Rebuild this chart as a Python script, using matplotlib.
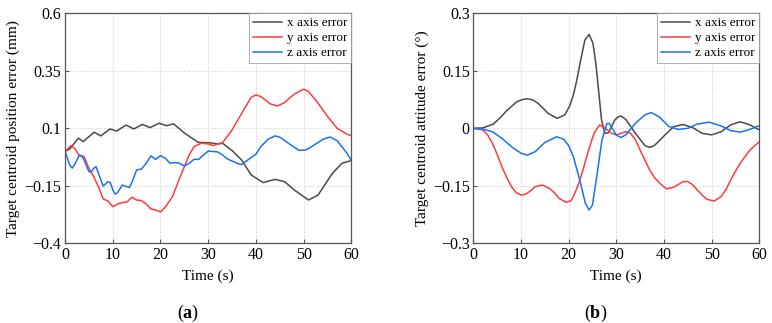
import matplotlib
matplotlib.use("Agg")
import matplotlib.pyplot as plt

plt.rcParams['font.family'] = ['Liberation Serif', 'DejaVu Serif']
plt.rcParams['mathtext.fontset'] = 'custom'
plt.rcParams['mathtext.rm'] = 'Liberation Serif'
plt.rcParams['mathtext.bf'] = 'Liberation Serif:bold'

# ---- panel (a): position error (mm) ----
ta_x = [0, 1, 2.8, 3.8, 6.1, 7.5, 9.4, 10.8, 12.8, 14.4, 16.2, 17.8, 19.7, 21.3, 22.7, 25.1, 27.9,
        30.4, 32, 33, 35, 37, 39, 41.5, 44, 46, 48, 51, 53, 56, 58, 60]
a_x = [0.0, 0.01, 0.057, 0.042, 0.083, 0.067, 0.097, 0.088, 0.114, 0.097, 0.117, 0.103, 0.122,
       0.111, 0.12, 0.078, 0.039, 0.037, 0.032, 0.035, 0.003, -0.038, -0.103, -0.136, -0.122,
       -0.132, -0.168, -0.212, -0.19, -0.096, -0.052, -0.04]

ta_y = [0, 1.3, 2, 3, 4, 5, 6, 7, 8, 9, 10, 11, 12, 13, 14, 15, 16, 17, 18, 19, 20, 21, 22.5, 24,
        25, 26, 27, 28.5, 30, 31, 33, 35, 37, 39, 40, 41, 43, 44.5, 46, 48, 50, 51, 53, 55, 57, 59, 60]
a_y = [0.0, 0.025, 0.013, -0.019, -0.023, -0.074, -0.11, -0.154, -0.207, -0.216, -0.241, -0.229,
       -0.223, -0.22, -0.2, -0.212, -0.214, -0.229, -0.251, -0.255, -0.264, -0.243, -0.197, -0.117,
       -0.067, -0.016, 0.02, 0.035, 0.032, 0.025, 0.038, 0.093, 0.165, 0.235, 0.245, 0.238, 0.206,
       0.197, 0.212, 0.249, 0.27, 0.26, 0.209, 0.151, 0.1, 0.075, 0.067]

ta_z = [0, 0.5, 1, 1.5, 2, 3, 3.5, 4, 5, 5.5, 6, 6.5, 7, 8, 9, 9.5, 10, 10.5, 11, 12, 13, 13.5, 14,
        15, 16, 17, 18, 19, 20, 21, 22, 23, 24, 25, 26, 27, 28, 29, 30, 32, 33, 34, 36, 37, 38, 40,
        41, 42.5, 44, 45, 47, 49, 50.5, 52, 54, 55.5, 57, 59, 60]
a_z = [0.0, -0.03, -0.06, -0.073, -0.059, -0.016, -0.02, -0.038, -0.088, -0.09, -0.074, -0.067,
       -0.096, -0.151, -0.132, -0.136, -0.168, -0.186, -0.18, -0.147, -0.154, -0.157, -0.136,
       -0.081, -0.077, -0.052, -0.02, -0.035, -0.019, -0.03, -0.052, -0.049, -0.052, -0.064,
       -0.052, -0.035, -0.035, -0.016, 0.001, -0.003, -0.016, -0.033, -0.052, -0.058, -0.042,
       -0.012, 0.02, 0.052, 0.067, 0.061, 0.032, 0.004, 0.006, 0.025, 0.052, 0.062, 0.046,
       -0.007, -0.041]

# ---- panel (b): attitude error (deg) ----
tb_x = [0, 2, 4.2, 5.6, 7, 9.1, 10.3, 11.4, 12.5, 13.6, 15.7, 17.6, 19.2, 20.2, 21, 21.7, 22.4,
        23.4, 24.3, 25.1, 25.7, 26.2, 26.9, 27.6, 28.3, 29, 29.7, 30.4, 31, 32, 34, 36, 37, 38, 40,
        42, 44, 46, 48, 50, 52, 54, 56, 58, 60]
b_x = [0.0, 0.001, 0.011, 0.027, 0.046, 0.069, 0.075, 0.077, 0.074, 0.065, 0.039, 0.026, 0.035,
       0.058, 0.087, 0.125, 0.17, 0.23, 0.245, 0.222, 0.17, 0.109, 0.022, -0.013, -0.012, 0.004,
       0.022, 0.03, 0.032, 0.023, -0.013, -0.045, -0.05, -0.045, -0.02, 0.004, 0.01, 0.002,
       -0.013, -0.017, -0.009, 0.009, 0.017, 0.009, -0.004]

tb_y = [0, 2, 3, 4, 5, 6, 7, 8, 9, 10, 11, 12, 13, 14.5, 16, 17, 18, 19.5, 20.5, 21, 22, 23, 24,
        25, 25.5, 26.5, 27.5, 29, 30, 32, 33, 34, 35, 36, 37, 38, 39, 40.5, 42, 44, 45, 46, 47, 48,
        49, 50.5, 52, 53, 54, 55, 56, 58, 60]
b_y = [0.0, -0.004, -0.017, -0.039, -0.068, -0.1, -0.128, -0.152, -0.168, -0.174, -0.172, -0.163,
       -0.152, -0.148, -0.157, -0.168, -0.183, -0.193, -0.189, -0.178, -0.148, -0.109, -0.065,
       -0.025, -0.009, 0.009, 0.002, -0.013, -0.017, -0.009, -0.013, -0.03, -0.057, -0.083, -0.109,
       -0.128, -0.142, -0.158, -0.154, -0.139, -0.139, -0.147, -0.161, -0.174, -0.185, -0.19,
       -0.178, -0.16, -0.135, -0.112, -0.091, -0.057, -0.035]

tb_z = [0, 2, 4, 6, 8, 10, 11.3, 13, 15, 17.5, 19, 20, 21, 22.5, 23.5, 24.3, 25, 26, 27, 27.5, 28,
        28.5, 29, 30, 31, 32, 34, 36, 37.3, 39, 41, 43, 45, 47, 49.5, 52, 54, 56, 58, 60]
b_z = [0.0, -0.002, -0.009, -0.026, -0.048, -0.065, -0.07, -0.061, -0.037, -0.022, -0.029,
       -0.045, -0.074, -0.143, -0.195, -0.213, -0.2, -0.117, -0.03, -0.009, 0.012, 0.013, 0.003,
       -0.018, -0.024, -0.017, 0.013, 0.035, 0.041, 0.03, 0.005, -0.003, 0.0, 0.011, 0.016, 0.006,
       -0.006, -0.01, -0.003, 0.007]

labels = ['x axis error', 'y axis error', 'z axis error']
colors = ['#4a4a4a', '#ff3b3b', '#1a72f0']
a_ticks = [-0.4, -0.15, 0.1, 0.35, 0.6]
a_ticklabels = ['\u22120.4', '\u22120.15', '0.1', '0.35', '0.6']
b_ticks = [-0.3, -0.15, 0, 0.15, 0.3]
b_ticklabels = ['\u22120.3', '\u22120.15', '0', '0.15', '0.3']
x_ticks = [0, 10, 20, 30, 40, 50, 60]

fig = plt.figure(figsize=(7.72, 3.23), dpi=100)
W, H = 772, 323
axA = fig.add_axes([65 / W, 1 - 243.3 / H, (351.5 - 65) / W, (243.3 - 13.3) / H])
axB = fig.add_axes([473.3 / W, 1 - 243.3 / H, (759.3 - 473.3) / W, (243.3 - 13.3) / H])


def style(ax, ticks, ticklabels, ylabel):
    ax.set_xlim(0, 60)
    ax.set_ylim(ticks[0], ticks[-1])
    ax.set_xticks(x_ticks)
    ax.set_yticks(ticks)
    ax.set_yticklabels(ticklabels)
    ax.tick_params(direction='in', length=3, width=0.8, color='#555555', labelsize=11.5, pad=2.5)
    ax.grid(True, linestyle=':', color='#cccccc', linewidth=0.7)
    for s in ax.spines.values():
        s.set_color('#555555')
        s.set_linewidth(0.9)
    ax.set_xlabel('Time (s)', fontsize=11, labelpad=5)
    ax.set_ylabel(ylabel, fontsize=11, labelpad=3)
    leg = ax.legend(loc='upper right', fontsize=9.5, frameon=True, fancybox=False,
                    borderaxespad=0, handlelength=2.2, handletextpad=0.4, borderpad=0.3,
                    labelspacing=0.2)
    leg.get_frame().set_edgecolor('#999999')
    leg.get_frame().set_linewidth(0.7)


axA.plot(ta_x, a_x, color=colors[0], lw=1.1, label=labels[0])
axA.plot(ta_y, a_y, color=colors[1], lw=1.1, label=labels[1])
axA.plot(ta_z, a_z, color=colors[2], lw=1.1, label=labels[2])
style(axA, a_ticks, a_ticklabels, 'Target centroid position error (mm)')

axB.plot(tb_x, b_x, color=colors[0], lw=1.1, label=labels[0])
axB.plot(tb_y, b_y, color=colors[1], lw=1.1, label=labels[1])
axB.plot(tb_z, b_z, color=colors[2], lw=1.1, label=labels[2])
style(axB, b_ticks, b_ticklabels, 'Target centroid attitude error (°)')

fig.text(188 / W, 1 - 313 / H, r'($\mathbf{a}$)', ha='center', va='center', fontsize=13)
fig.text(596 / W, 1 - 313 / H, r'($\mathbf{b}$)', ha='center', va='center', fontsize=13)

fig.savefig('out.png', dpi=100)
